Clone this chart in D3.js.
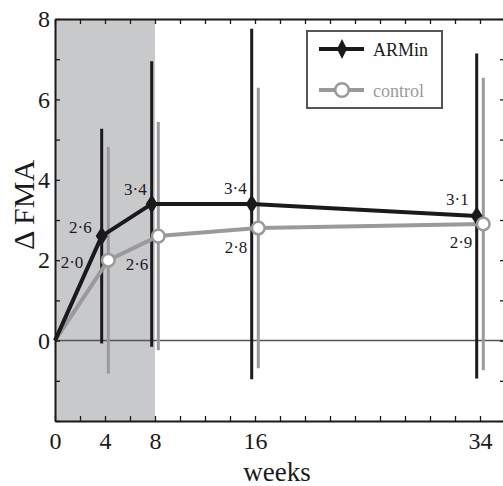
<!DOCTYPE html>
<html>
<head>
<meta charset="utf-8">
<script src="https://cdn.jsdelivr.net/npm/d3@7"></script>
<style>
  body { margin: 0; background: #fff; }
  svg text { font-family: "Liberation Serif", "Times New Roman", serif; }
</style>
</head>
<body>
<div id="chart"></div>
<script>
// data
const weeks = [4, 8, 16, 34];
const arminMean = [2.6, 3.4, 3.4, 3.1];
const arminSd = [2.67, 3.55, 4.36, 4.04];
const controlMean = [2.0, 2.6, 2.8, 2.9];
const controlSd = [2.82, 2.84, 3.49, 3.64];
const xTickLabels = [0, 4, 8, 16, 34];
const yTickLabels = [0, 2, 4, 6, 8];
const shadedWeeks = [0, 8];

const BLACK = "#1a1a1a", GREY = "#9a9a9c", SHADE = "#c8c9cb";

const width = 503, height = 486;
const margin = {top: 19, right: -2, bottom: 65, left: 55};

const svg = d3.select("#chart").append("svg")
    .attr("width", width)
    .attr("height", height)
    .attr("viewBox", `0 0 ${width} ${height}`);

const x = d3.scaleLinear().domain([0, 36]).range([margin.left, width - margin.right]);
const y = d3.scaleLinear().domain([-2, 8]).range([height - margin.bottom, margin.top]);

// grey band for the training period
svg.append("rect")
    .attr("x", x(shadedWeeks[0]))
    .attr("y", y(8))
    .attr("width", x(shadedWeeks[1]) - x(shadedWeeks[0]))
    .attr("height", y(-2) - y(8))
    .attr("fill", SHADE);

// zero line
svg.append("line")
    .attr("x1", x(0)).attr("x2", x(36))
    .attr("y1", y(0)).attr("y2", y(0))
    .attr("stroke", "#555").attr("stroke-width", 1.5);

// series, dodged a few px so bars don't overlap
const series = [
    {name: "ARMin", mean: arminMean, sd: arminSd, color: BLACK, dodge: -3.3,
     labelOff: [[-10, -3], [-5, -9], [-5, -10], [-8, -11]]},
    {name: "control", mean: controlMean, sd: controlSd, color: GREY, dodge: 3.3,
     labelOff: [[-25, 8], [-10, 34], [-11, 25], [-11, 24]]}
];

const fmt = v => d3.format(".1f")(v).replace(".", "\u00b7");

// error bars first
series.forEach(s => {
    svg.append("g").selectAll("line")
        .data(weeks)
        .join("line")
        .attr("x1", (d, i) => x(d) + s.dodge)
        .attr("x2", (d, i) => x(d) + s.dodge)
        .attr("y1", (d, i) => y(s.mean[i] - s.sd[i]))
        .attr("y2", (d, i) => y(s.mean[i] + s.sd[i]))
        .attr("stroke", s.color)
        .attr("stroke-width", 3);
});

// lines from the origin (control drawn first, ARMin on top)
[series[1], series[0]].forEach(s => {
    const pts = [[x(0), y(0)]].concat(weeks.map((w, i) => [x(w) + s.dodge, y(s.mean[i])]));
    svg.append("path")
        .attr("d", d3.line()(pts))
        .attr("fill", "none")
        .attr("stroke", s.color)
        .attr("stroke-width", 4)
        .attr("stroke-linejoin", "round");
});

const diamond = "M0,-9.5L6,0L0,9.5L-6,0Z";

// markers
svg.append("g").selectAll("path")
    .data(weeks)
    .join("path")
    .attr("d", diamond)
    .attr("transform", (d, i) => `translate(${x(d) + series[0].dodge},${y(arminMean[i])})`)
    .attr("fill", BLACK);

svg.append("g").selectAll("circle")
    .data(weeks)
    .join("circle")
    .attr("cx", d => x(d) + series[1].dodge)
    .attr("cy", (d, i) => y(controlMean[i]))
    .attr("r", 6.3)
    .attr("fill", "#fff")
    .attr("stroke", GREY)
    .attr("stroke-width", 2.5);

// value labels
series.forEach(s => {
    svg.append("g").selectAll("text")
        .data(weeks)
        .join("text")
        .attr("x", (d, i) => x(d) + s.dodge + s.labelOff[i][0])
        .attr("y", (d, i) => y(s.mean[i]) + s.labelOff[i][1])
        .attr("text-anchor", "end")
        .attr("font-size", 17)
        .attr("fill", BLACK)
        .text((d, i) => fmt(s.mean[i]));
});

// axes, ticks pointing inward
const xTicks = d3.range(0, 37, 2);
const yTicks = d3.range(-2, 9, 1);

const styleAxis = g => {
    g.select(".domain").attr("stroke", BLACK).attr("stroke-width", 2);
    g.selectAll(".tick line").attr("stroke", BLACK).attr("stroke-width", 1.3);
    g.selectAll("text").attr("font-size", 24).attr("fill", BLACK)
        .style("font-family", '"Liberation Serif", serif');
};

svg.append("g")
    .attr("transform", `translate(0,${y(-2)})`)
    .call(d3.axisBottom(x).tickValues(xTicks).tickSizeInner(-5).tickSizeOuter(0).tickPadding(11)
        .tickFormat(d => xTickLabels.includes(d) ? d : ""))
    .call(styleAxis);

svg.append("g")
    .attr("transform", `translate(0,${y(8)})`)
    .call(d3.axisTop(x).tickValues(xTicks).tickSizeInner(-5).tickSizeOuter(0).tickFormat(""))
    .call(styleAxis);

svg.append("g")
    .attr("transform", `translate(${x(0)},0)`)
    .call(d3.axisLeft(y).tickValues(yTicks).tickSizeInner(-5).tickSizeOuter(0).tickPadding(5)
        .tickFormat(d => yTickLabels.includes(d) ? d : ""))
    .call(styleAxis);

svg.append("g")
    .attr("transform", `translate(${x(36)},0)`)
    .call(d3.axisRight(y).tickValues(yTicks).tickSizeInner(-5).tickSizeOuter(0).tickFormat(""))
    .call(styleAxis);

svg.selectAll(".domain").attr("fill", "none");

// axis titles
svg.append("text")
    .attr("x", 277)
    .attr("y", 481)
    .attr("text-anchor", "middle")
    .attr("font-size", 27)
    .attr("fill", BLACK)
    .text("weeks");

svg.append("text")
    .attr("transform", "translate(34,205) rotate(-90)")
    .attr("text-anchor", "middle")
    .attr("font-size", 30)
    .attr("fill", BLACK)
    .text("\u0394 FMA");

// legend
const legend = svg.append("g").attr("transform", "translate(307,31)");
legend.append("rect")
    .attr("width", 135).attr("height", 77)
    .attr("fill", "#fff")
    .attr("stroke", "#555").attr("stroke-width", 2);

series.forEach((s, i) => {
    const ly = 18 + i * 41;
    const row = legend.append("g").attr("transform", `translate(0,${ly})`);
    row.append("line")
        .attr("x1", 12).attr("x2", 57)
        .attr("stroke", s.color).attr("stroke-width", 4);
    if (i === 0) {
        row.append("path").attr("d", "M0,-10L5,0L0,10L-5,0Z")
            .attr("transform", "translate(35,0)").attr("fill", s.color);
    } else {
        row.append("circle").attr("cx", 35).attr("r", 6.8)
            .attr("fill", "#fff").attr("stroke", s.color).attr("stroke-width", 2.5);
    }
    row.append("text")
        .attr("x", 66).attr("y", 7)
        .attr("font-size", 18)
        .attr("fill", s.color)
        .text(s.name);
});
</script>
</body>
</html>
